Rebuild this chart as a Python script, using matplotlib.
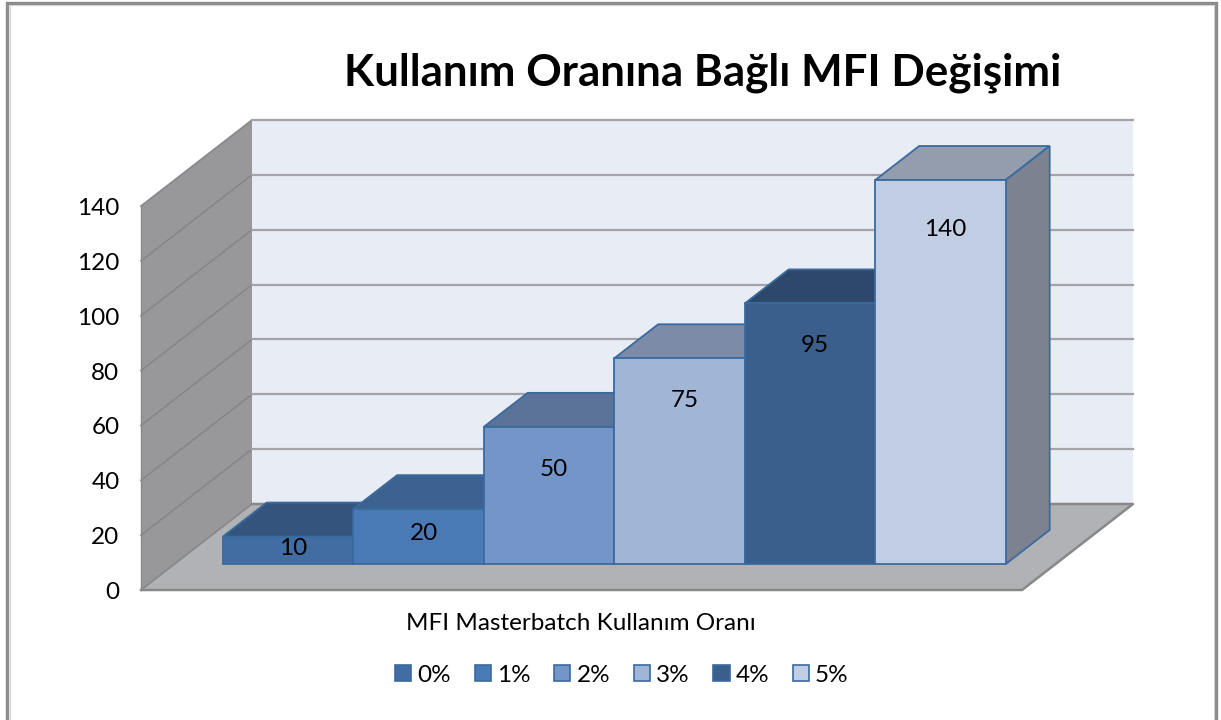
import matplotlib
matplotlib.use("Agg")
import matplotlib.pyplot as plt
from matplotlib.patches import Polygon, Rectangle, Patch
from matplotlib.transforms import ScaledTranslation

plt.rcParams['font.family'] = ['Lato', 'DejaVu Sans']

TITLE = "Kullanım Oranına Bağlı MFI Değişimi"
XLABEL = "MFI Masterbatch Kullanım Oranı"
categories = ["0%", "1%", "2%", "3%", "4%", "5%"]
values = [10, 20, 50, 75, 95, 140]
y_ticks = [0, 20, 40, 60, 80, 100, 120, 140]
front_colors = ["#416da3", "#4a7ab6", "#7395c7", "#a1b6d7", "#3a5f8c", "#c1cde2"]
top_colors = ["#34547e", "#3c6292", "#5b7299", "#7b8ba8", "#2d486b", "#949dae"]
side_colors = ["#34547e", "#3c6292", "#5b7299", "#5f6e88", "#2d486b", "#7c828f"]

W, H = 1221, 720
FS = 17.5
fig = plt.figure(figsize=(W / 100, H / 100), dpi=100, facecolor="white")

# outer frame (its bottom edge is cut off by the image edge)
fig.add_artist(Rectangle((7 / W, 1 - 724 / H), 1209 / W, 721 / H, transform=fig.transFigure,
                         fill=False, ec="#8c8c8c", lw=2.4))
fig.add_artist(Rectangle((9.5 / W, 1 - 724 / H), 1204 / W, 719 / H, transform=fig.transFigure,
                         fill=False, ec="#d0d0d0", lw=0.8))

# front plane of the 3-D box: 141..1022 px wide, value 0..140 = 590..206 px
ax = fig.add_axes([141 / W, 1 - 590 / H, 881 / W, 384 / H], facecolor="none")
ax.set_ylim(0, 140)
bar_px = 130.5
px_per_val = 384 / 140
x_min = -0.3695
ax.set_xlim(x_min, x_min + 881 / bar_px)
for s in ax.spines.values():
    s.set_visible(False)
ax.set_xticks([])
ax.set_yticks(y_ticks)
ax.tick_params(axis="y", length=0, pad=15.5, labelsize=FS, labelcolor="black")
tick_shift = ScaledTranslation(0, -0.5 / 100, fig.dpi_scale_trans)
for lab in ax.get_yticklabels():
    lab.set_transform(lab.get_transform() + tick_shift)

DX, DY = 111 / bar_px, 86 / px_per_val   # full depth of the floor in data units
BAR_D0, BAR_D1 = 26 / 86, 60 / 86        # depth range of the bars


def P(x, y, d):
    return (x + d * DX, y + d * DY)


def poly(points, fc, ec="none", lw=0.0, z=1):
    ax.add_patch(Polygon(points, closed=True, fc=fc, ec=ec, lw=lw, zorder=z,
                         clip_on=False, joinstyle="miter"))


xa, xb = ax.get_xlim()
top = y_ticks[-1]
# walls and floor
poly([P(xa, 0, 0), P(xa, top, 0), P(xa, top, 1), P(xa, 0, 1)], "#98989a", z=1)
poly([P(xa, 0, 1), P(xa, top, 1), P(xb, top, 1), P(xb, 0, 1)], "#e8ecf5", z=1)
poly([P(xa, 0, 0), P(xb, 0, 0), P(xb, 0, 1), P(xa, 0, 1)], "#b1b2b5", z=1)
for t in y_ticks:
    a, b, c = P(xa, t, 0), P(xa, t, 1), P(xb, t, 1)
    ax.plot([a[0], b[0]], [a[1], b[1]], color="#87878a", lw=1.2, zorder=2, clip_on=False)
    if t > 0:
        ax.plot([b[0], c[0]], [b[1], c[1]], color="#a3a3a5", lw=1.6, zorder=2, clip_on=False)
# floor edges
f = [P(xa, 0, 0), P(xb, 0, 0), P(xb, 0, 1), P(xa, 0, 1)]
ax.plot([f[0][0], f[1][0], f[2][0], f[3][0]], [f[0][1], f[1][1], f[2][1], f[3][1]],
        color="#88888a", lw=1.8, zorder=2, clip_on=False)
ax.plot([f[0][0], f[0][0]], [f[0][1], P(xa, top, 0)[1]], color="#88888a", lw=1.0, zorder=2, clip_on=False)

EDGE = "#3b6a9e"
handles = []
for i, (v, cf, ct, cs, cat) in enumerate(zip(values, front_colors, top_colors, side_colors, categories)):
    l, r = i, i + 1
    z = 3 + i
    poly([P(l, v, BAR_D0), P(r, v, BAR_D0), P(r, v, BAR_D1), P(l, v, BAR_D1)], ct, EDGE, 1.3, z)
    poly([P(r, 0, BAR_D0), P(r, v, BAR_D0), P(r, v, BAR_D1), P(r, 0, BAR_D1)], cs, EDGE, 1.3, z)
    poly([P(l, 0, BAR_D0), P(r, 0, BAR_D0), P(r, v, BAR_D0), P(l, v, BAR_D0)], cf, EDGE, 1.3, z + 0.5)
    cx = P(i + 0.5, 0, BAR_D0)[0] + 5 / bar_px
    ly = P(0, max(0.55 * v, min(v - 15.5, 0.933 * v - 8.7)), BAR_D0)[1]
    ax.text(cx, ly, str(v), ha="center", va="center", fontsize=FS, color="black", zorder=20)
    handles.append(Patch(fc=cf, ec=EDGE, lw=1.2, label=cat))

fig.text(703 / W, 1 - 73 / H, TITLE, ha="center", va="center", fontsize=31.7, fontweight="bold", color="black")
fig.text(580.5 / W, 1 - 623 / H, XLABEL, ha="center", va="center", fontsize=FS, color="black")

leg = fig.legend(handles=handles, loc="center", bbox_to_anchor=(622 / W, 1 - 675 / H), ncol=6,
                 frameon=False, fontsize=FS, handlelength=0.66, handleheight=0.66,
                 handletextpad=0.25, columnspacing=0.98, borderpad=0, labelcolor="black")

fig.savefig("out.png", dpi=100, facecolor="white")
